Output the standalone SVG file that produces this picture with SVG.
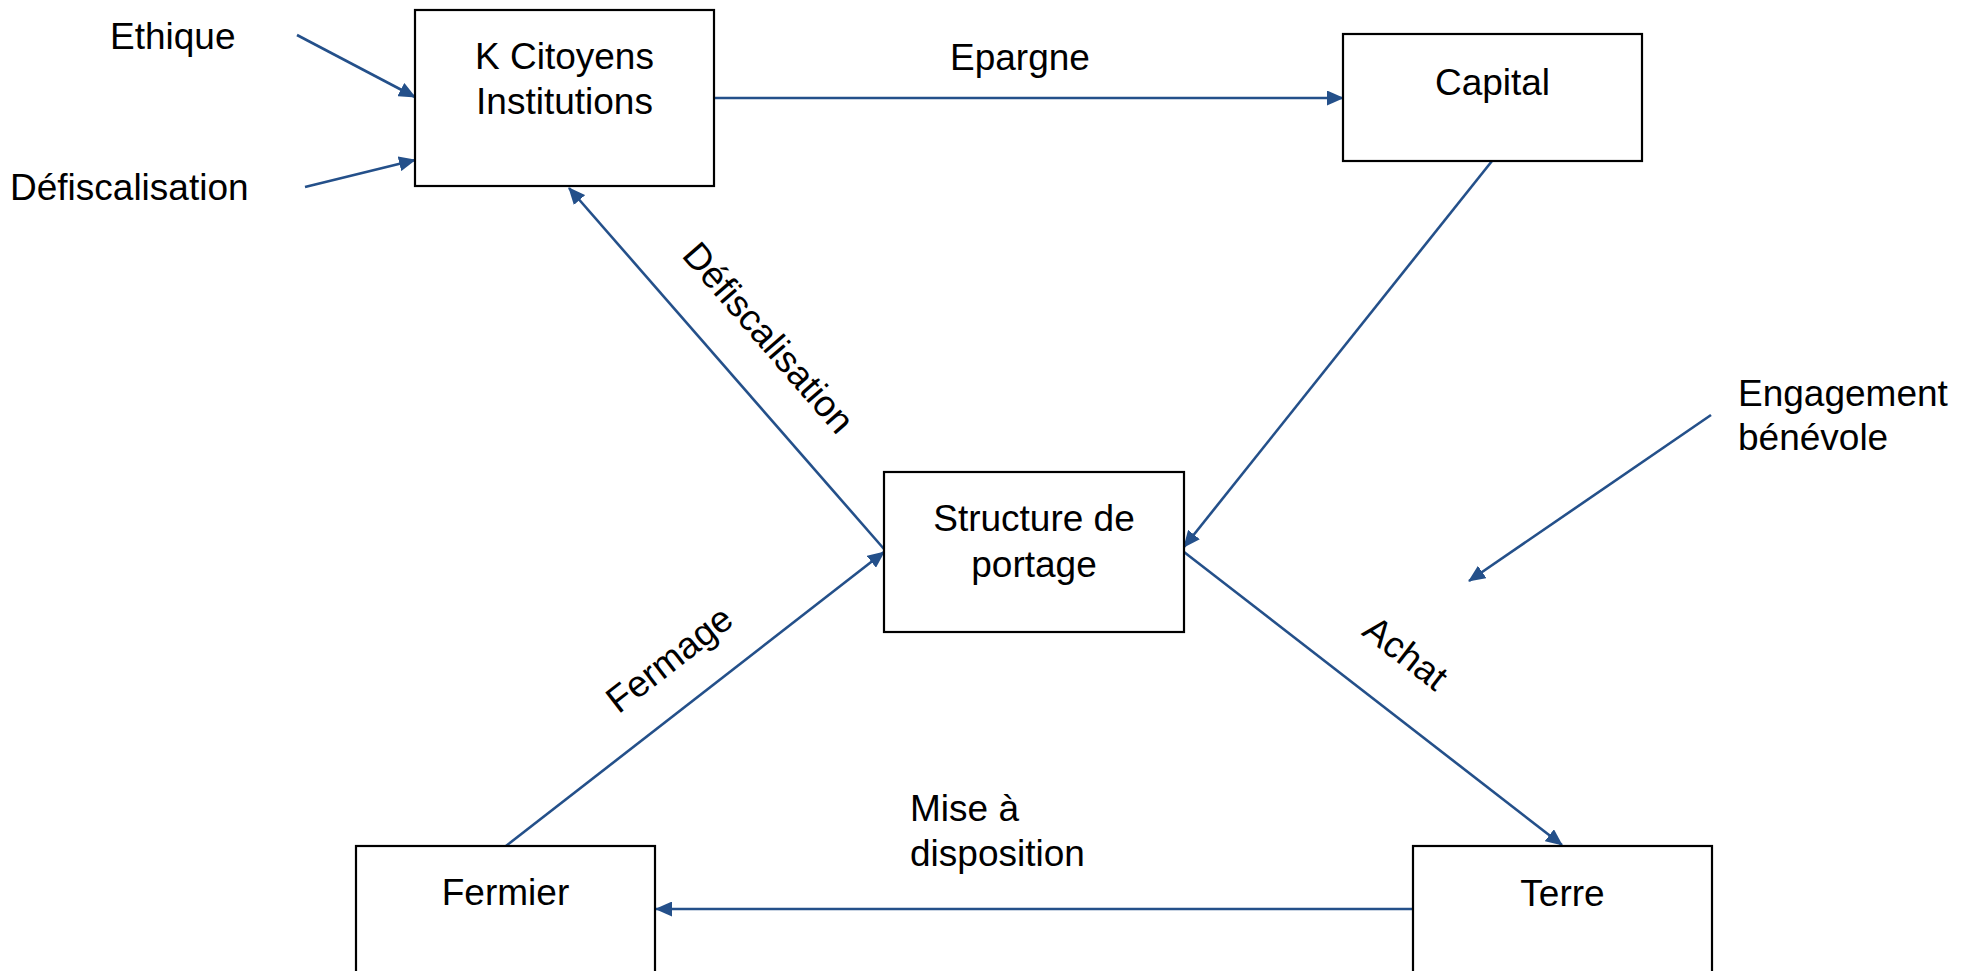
<svg xmlns="http://www.w3.org/2000/svg" width="1967" height="971" viewBox="0 0 1967 971">
<style>
.box{fill:#ffffff;stroke:#000000;stroke-width:2.2}
.t{font-family:"Liberation Sans",Arial,sans-serif;font-size:37px;fill:#000000}
.c{text-anchor:middle}
.con{stroke:#24508a;stroke-width:2.6;fill:none;marker-end:url(#ah)}
</style>
<defs>
<marker id="ah" markerUnits="userSpaceOnUse" markerWidth="17" markerHeight="15" refX="16" refY="7.5" orient="auto">
<path d="M0,0 L17,7.5 L0,15 z" fill="#24508a"/>
</marker>
</defs>
<rect width="1967" height="971" fill="#ffffff"/>
<g id="connectors">
<line class="con" x1="714" y1="98" x2="1343" y2="98"/>
<line class="con" x1="1492" y1="161" x2="1184" y2="547"/>
<line class="con" x1="1184" y1="552" x2="1562" y2="845"/>
<line class="con" x1="1413" y1="909" x2="656" y2="909"/>
<line class="con" x1="506" y1="846" x2="884" y2="552"/>
<line class="con" x1="884" y1="549" x2="569" y2="188"/>
<line class="con" x1="297" y1="35" x2="415" y2="97"/>
<line class="con" x1="305" y1="187" x2="415" y2="160"/>
<line class="con" x1="1711" y1="415" x2="1469" y2="581"/>
</g>
<g id="labels">
<text class="t" x="110" y="49">Ethique</text>
<text class="t" x="10" y="200">Défiscalisation</text>
<text class="t" x="950" y="70">Epargne</text>
<text class="t" x="1738" y="406">Engagement</text>
<text class="t" x="1738" y="450">bénévole</text>
<text class="t" x="910" y="821">Mise à</text>
<text class="t" x="910" y="866">disposition</text>
<text class="t c" transform="translate(759,346) rotate(49)">Défiscalisation</text>
<text class="t c" transform="translate(677,669) rotate(-37.9)">Fermage</text>
<text class="t c" transform="translate(1398,663) rotate(37.7)">Achat</text>
</g>
<g id="node-kcitoyens">
<rect class="box" x="415" y="10" width="299" height="176"/>
<text class="t c" x="564.5" y="69">K Citoyens</text>
<text class="t c" x="564.5" y="114">Institutions</text>
</g>
<g id="node-capital">
<rect class="box" x="1343" y="34" width="299" height="127"/>
<text class="t c" x="1492.5" y="95">Capital</text>
</g>
<g id="node-structure">
<rect class="box" x="884" y="472" width="300" height="160"/>
<text class="t c" x="1034" y="531">Structure de</text>
<text class="t c" x="1034" y="577">portage</text>
</g>
<g id="node-fermier">
<rect class="box" x="356" y="846" width="299" height="160"/>
<text class="t c" x="505.5" y="905">Fermier</text>
</g>
<g id="node-terre">
<rect class="box" x="1413" y="846" width="299" height="160"/>
<text class="t c" x="1562.5" y="906">Terre</text>
</g>
</svg>
